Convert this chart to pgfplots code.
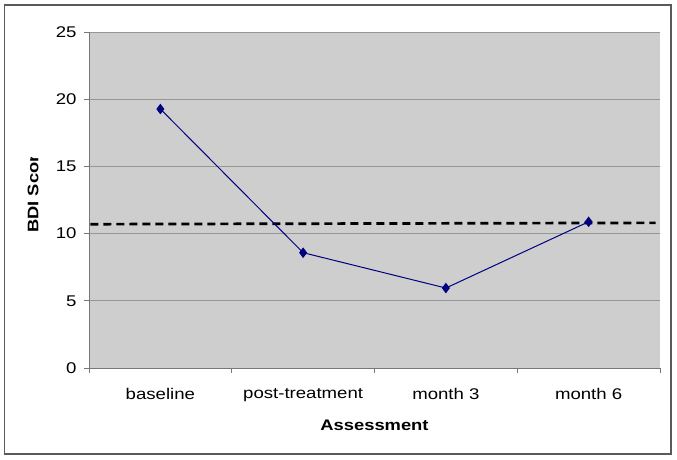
\documentclass[border=0pt]{standalone}
\usepackage{pgfplots}
\pgfplotsset{compat=1.18}
\usepackage{fontspec}
\setmainfont[FakeStretch=1.2]{Liberation Sans}
\definecolor{plotbg}{RGB}{206,206,206}
\definecolor{gridc}{RGB}{150,150,150}
\definecolor{axc}{RGB}{120,120,120}
\definecolor{navy}{RGB}{0,0,128}
\definecolor{framec}{RGB}{90,90,90}
\begin{document}
\begin{tikzpicture}
\path (0pt,0pt) rectangle (677pt,459pt);
\draw[color=framec, line width=1.5pt] (4.5pt,5pt) rectangle (671pt,454pt);
\begin{axis}[at={(89pt,91pt)}, anchor=south west, scale only axis,
  width=571pt, height=336pt,
  xmin=-0.5, xmax=3.5, ymin=0, ymax=25,
  ytick={0,5,10,15,20,25},
  xtick={-0.5,0.5,1.5,2.5,3.5}, xticklabels={},
  extra x ticks={0,1,2,3},
  extra x tick labels={baseline,post-treatment,month 3,month 6},
  extra x tick style={major tick length=0pt, xticklabel style={yshift=-17pt}},
  yticklabel style={xshift=-4pt},
  axis x line*=bottom, axis y line*=left,
  axis line style={color=axc, line width=1pt},
  tick style={color=axc, line width=1pt},
  major tick length=5pt, tick align=outside,
  axis background/.style={fill=plotbg},
  ymajorgrids, major grid style={color=gridc, line width=1pt},
  ticklabel style={font=\fontsize{15.5}{18}\selectfont, text=black},
  /pgf/number format/assume math mode=true,
  xlabel={\bfseries Assessment},
  xlabel style={font=\fontsize{15.3}{18}\selectfont, at={(axis description cs:0.5,0)}, anchor=center, yshift=-57pt},
  clip=false,
]
\addplot[black, line width=2.7pt, dash pattern=on 8pt off 5pt] coordinates {(-0.49,10.7) (3.47,10.8)};
\addplot[color=navy, line width=1pt, mark=diamond*, mark size=4.5pt, mark options={fill=navy, solid}] coordinates {(0,19.27) (1,8.58) (2,5.95) (3,10.88)};
\end{axis}
\begin{scope}
\clip (0pt,0pt) rectangle (60pt,302pt);
\node[rotate=90, font=\fontsize{15.3}{18}\selectfont\bfseries] at (33pt,270pt) {BDI Score};
\end{scope}
\end{tikzpicture}
\end{document}
